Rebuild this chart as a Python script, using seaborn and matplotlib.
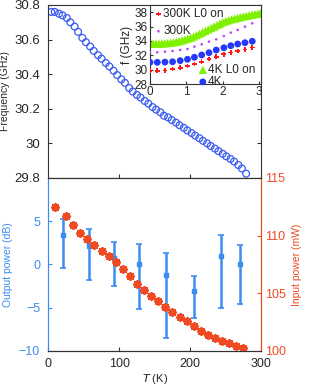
import numpy as np
import pandas as pd
import matplotlib
matplotlib.use("Agg")
import matplotlib.pyplot as plt
import seaborn as sns

sns.set_style("white")
plt.rcParams['font.family'] = ['Liberation Sans', 'DejaVu Sans']

# main panel: frequency vs temperature
temp_f = [4, 9, 15, 20, 26, 31, 37, 42, 48, 53, 59, 64, 70, 75, 81, 86, 92, 97,
          103, 108, 114, 119, 125, 130, 136, 141, 147, 152, 158, 163, 169, 174,
          180, 185, 191, 196, 202, 207, 213, 218, 224, 229, 235, 240, 246, 251,
          257, 262, 268, 273, 279]
freq = [30.76, 30.76, 30.75, 30.74, 30.725, 30.70, 30.675, 30.645, 30.61, 30.585,
        30.56, 30.535, 30.51, 30.49, 30.465, 30.445, 30.42, 30.395, 30.37, 30.35,
        30.32, 30.30, 30.28, 30.265, 30.245, 30.23, 30.21, 30.195, 30.18, 30.16,
        30.15, 30.135, 30.12, 30.105, 30.09, 30.075, 30.06, 30.045, 30.03, 30.015,
        30.0, 29.985, 29.97, 29.955, 29.94, 29.925, 29.91, 29.895, 29.875, 29.855,
        29.825]

# inset series
ins_x = [0.0, 0.2, 0.41, 0.62, 0.83, 1.03, 1.22, 1.42, 1.62, 1.82, 2.03, 2.22,
         2.41, 2.61, 2.81]
f_4k = [31.02, 31.02, 31.05, 31.1, 31.25, 31.44, 31.72, 32.04, 32.36, 32.73,
        33.05, 33.33, 33.57, 33.75, 33.95]
f_300k_l0 = [29.85, 29.85, 29.9, 30.09, 30.27, 30.51, 30.79, 31.1, 31.48, 31.8,
             32.14, 32.36, 32.6, 32.83, 33.06]
f_300k = [32.41, 32.41, 32.5, 32.6, 32.73, 32.87, 33.2, 33.53, 33.9, 34.22,
          34.68, 35.15, 35.52, 35.98, 36.45]
green_x = [0.0, 0.08, 0.16, 0.24, 0.32, 0.4, 0.48, 0.56, 0.64, 0.72, 0.8, 0.88,
           0.96, 1.04, 1.12, 1.2, 1.28, 1.36, 1.44, 1.52, 1.6, 1.68, 1.76, 1.84,
           1.92, 2.0, 2.08, 2.16, 2.24, 2.32, 2.4, 2.48, 2.56, 2.64, 2.72, 2.8,
           2.88, 2.96, 3.04]
f_4k_l0 = [33.6, 33.6, 33.62, 33.63, 33.65, 33.67, 33.7, 33.74, 33.8, 33.88,
           33.97, 34.07, 34.2, 34.33, 34.45, 34.62, 34.8, 35.0, 35.2, 35.4,
           35.6, 35.8, 36.0, 36.2, 36.4, 36.6, 36.75, 36.88, 37.0, 37.1,
           37.2, 37.3, 37.4, 37.48, 37.56, 37.64, 37.72, 37.8, 37.88]

# bottom panel
temp_out = [20, 58, 93, 128, 166, 206, 243, 270]
out_mid = [3.35, 2.08, 0.77, 0.0, -1.27, -3.08, 0.92, 0.08]
out_low = [-0.42, -1.77, -2.54, -5.12, -8.5, -6.19, -5.0, -4.65]
out_high = [5.27, 4.04, 2.57, 2.38, 1.31, -1.31, 3.42, 2.27]
temp_in = [10, 25, 35, 45, 55, 65, 75, 85, 95, 105, 115, 125, 135, 145, 155,
           165, 175, 185, 195, 205, 215, 225, 235, 245, 255, 265, 275]
p_in = [112.45, 111.7, 110.9, 110.25, 109.7, 109.2, 108.7, 108.25, 107.7, 107.1,
        106.5, 105.8, 105.3, 104.75, 104.3, 103.8, 103.35, 102.95, 102.6, 102.15,
        101.75, 101.35, 101.1, 100.85, 100.65, 100.45, 100.2]

blue_c = "#3b8df0"
red_c = "#f04a22"
spine_c = "#333333"

fig = plt.figure(figsize=(3.1, 3.9), dpi=100)
ax1 = fig.add_axes([0.156, 0.5436, 0.686, 0.4436])
ax2 = fig.add_axes([0.156, 0.1008, 0.686, 0.4428])
ax3 = ax2.twinx()
axi = fig.add_axes([0.4839, 0.7846, 0.358, 0.2026])

# top panel
sns.scatterplot(x=temp_f, y=freq, ax=ax1, marker='o', s=24, facecolor='none',
                edgecolor='#3a5cf0', linewidth=0.9)
ax1.set_xlim(0, 300)
ax1.set_ylim(29.8, 30.8)
ax1.set_yticks([29.8, 30, 30.2, 30.4, 30.6, 30.8])
ax1.set_yticklabels(['29.8', '30', '30.2', '30.4', '30.6', '30.8'], fontsize=9.5)
ax1.set_xticks([100, 200])
ax1.set_xticklabels([])
ax1.tick_params(direction='in', length=3, right=True, bottom=True, left=True,
                color=spine_c, pad=6)
ax1.set_ylabel("Frequency (GHz)", fontsize=7.5, labelpad=3)
for s in ax1.spines.values():
    s.set_color(spine_c)
    s.set_linewidth(0.8)

# inset
sns.scatterplot(x=green_x, y=f_4k_l0, ax=axi, marker='^', s=36, color='#7ef000',
                edgecolor='none', label='4K L0 on', zorder=2)
sns.scatterplot(x=ins_x, y=f_300k, ax=axi, marker='.', s=14, color='#c040ff',
                edgecolor='none', label='300K', zorder=3)
sns.scatterplot(x=ins_x, y=f_4k, ax=axi, marker='o', s=24, color='#2638f8',
                edgecolor='none', label='4K', zorder=3)
sns.scatterplot(x=ins_x, y=f_300k_l0, ax=axi, marker='P', s=12, color='#ff1a1a',
                edgecolor='none', label='300K L0 on', zorder=3)
axi.set_xlim(0, 3.05)
axi.set_ylim(28, 39)
axi.set_yticks([28, 30, 32, 34, 36, 38])
axi.set_xticks([0, 1, 2, 3])
axi.tick_params(direction='in', length=2.5, labelsize=8.5, pad=1.5, left=True,
                bottom=True, color=spine_c)
axi.set_ylabel("f (GHz)", fontsize=8.5, labelpad=1)
for s in axi.spines.values():
    s.set_color(spine_c)
    s.set_linewidth(0.8)
handles, labels = axi.get_legend_handles_labels()
hmap = dict(zip(labels, handles))
leg1 = axi.legend([hmap['300K L0 on'], hmap['300K']], ['300K L0 on', '300K'],
                  loc='upper left', bbox_to_anchor=(-0.02, 1.05), frameon=False,
                  fontsize=8.5, handlelength=0.6, handletextpad=0.1,
                  labelspacing=0.45, borderpad=0.1)
axi.add_artist(leg1)
axi.legend([hmap['4K L0 on'], hmap['4K']], ['4K L0 on', '4K'],
           loc='lower left', bbox_to_anchor=(0.38, -0.14), frameon=False,
           fontsize=8.5, handlelength=0.6, handletextpad=0.1,
           labelspacing=0.0, borderpad=0.1)

# bottom panel
mid = np.array(out_mid)
yerr = [mid - np.array(out_low), np.array(out_high) - mid]
ax2.errorbar(temp_out, out_mid, yerr=yerr, fmt='s', ms=2.5, color=blue_c,
             ecolor=blue_c, elinewidth=1.8, capsize=2, capthick=1.2, zorder=3)
ax2.set_xlim(0, 300)
ax2.set_ylim(-10, 10)
ax2.set_yticks([-10, -5, 0, 5])
ax2.set_xticks([0, 100, 200, 300])
ax2.tick_params(axis='y', direction='in', length=3, colors=blue_c, labelsize=9,
                left=True, pad=6)
ax2.tick_params(axis='x', direction='in', length=3, labelsize=9, bottom=True,
                color=spine_c, pad=5)
ax2.set_ylabel("Output power (dB)", fontsize=7.5, color=blue_c, labelpad=4)
ax2.set_xlabel(r"$T$ (K)", fontsize=8, labelpad=2)

sns.scatterplot(x=temp_in, y=p_in, ax=ax3, marker=(8, 2, 0), s=26,
                color=red_c, linewidth=1.5, zorder=2)
ax3.set_ylim(100, 115)
ax3.set_yticks([100, 105, 110, 115])
ax3.tick_params(axis='y', direction='in', length=3, colors=red_c, labelsize=9,
                right=True, pad=3)
ax3.set_ylabel("Input power (mW)", fontsize=7.5, color=red_c, labelpad=4)

for a in (ax2, ax3):
    a.spines['top'].set_color(spine_c)
    a.spines['bottom'].set_color(spine_c)
    a.spines['left'].set_color(blue_c)
    a.spines['right'].set_color(red_c)
    for s in a.spines.values():
        s.set_linewidth(0.8)

fig.savefig("out.png", dpi=100)
